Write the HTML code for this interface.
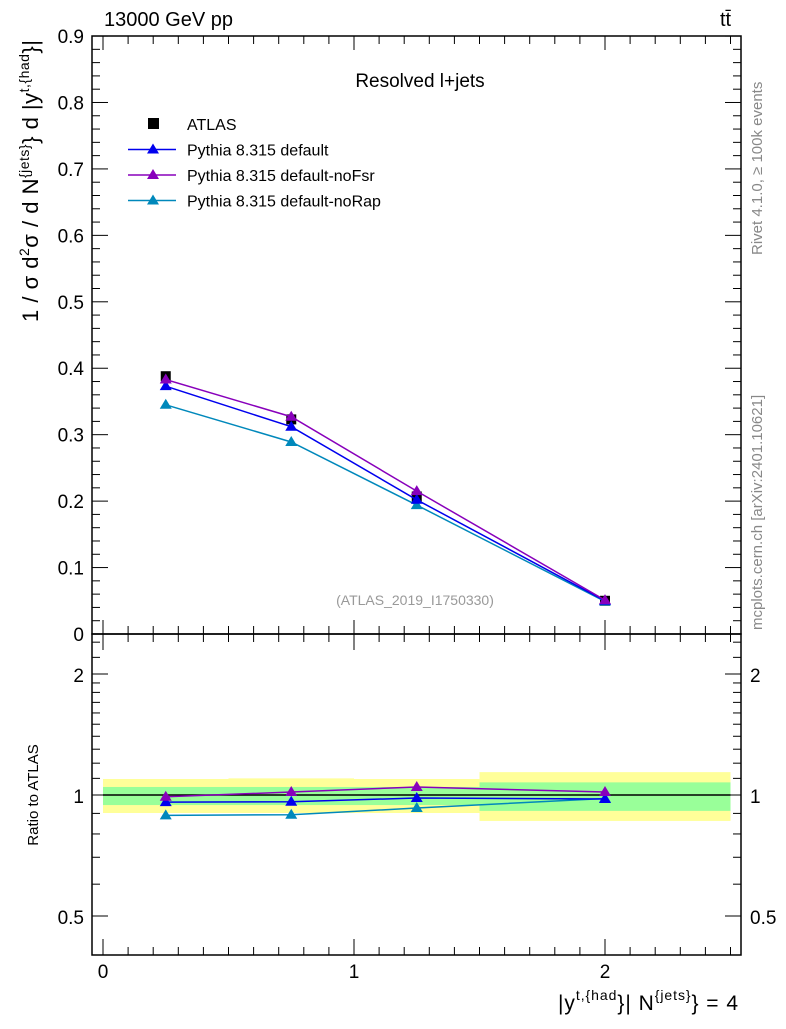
<!DOCTYPE html>
<html><head><meta charset="utf-8">
<style>
body{margin:0;background:#fff;}
svg text{font-family:"Liberation Sans",sans-serif;}
</style></head>
<body>
<svg id="chart" width="786" height="1024" xmlns="http://www.w3.org/2000/svg">
<g id="bands"></g>
<g id="main"></g>
<g id="ratio"></g>
<g id="axes"></g>
<text x="104" y="26" font-size="20">13000 GeV pp</text>
<text x="720" y="26" font-size="20">tt̄</text>
<text x="420" y="87" font-size="19" text-anchor="middle">Resolved l+jets</text>
<text x="415" y="605" font-size="14" fill="#999" text-anchor="middle">(ATLAS_2019_I1750330)</text>
<text transform="translate(762,255) rotate(-90)" font-size="15" fill="#888">Rivet 4.1.0, ≥ 100k events</text>
<text transform="translate(762,630) rotate(-90)" font-size="15" fill="#888">mcplots.cern.ch [arXiv:2401.10621]</text>
<text transform="translate(38,40) rotate(-90)" font-size="22" text-anchor="end" textLength="282" lengthAdjust="spacing">1 / σ d<tspan font-size="14" dy="-9">2</tspan><tspan dy="9">σ / d N</tspan><tspan font-size="14" dy="-9">{jets}</tspan><tspan dy="9">} d |y</tspan><tspan font-size="14" dy="-9">t,{had</tspan><tspan dy="9">}|</tspan></text>
<text transform="translate(38,795) rotate(-90)" font-size="15" text-anchor="middle">Ratio to ATLAS</text>
<text x="558" y="1010" font-size="21" textLength="180" lengthAdjust="spacing">|y<tspan font-size="14" dy="-10">t,{had</tspan><tspan dy="10">}| N</tspan><tspan font-size="14" dy="-10">{jets}</tspan><tspan dy="10">} = 4</tspan></text>
<g id="legend"></g>
</svg>
<script>
const xCenters=[0.25,0.75,1.25,2.0];
const binEdges=[0,0.5,1,1.5,2.5];
const atlas=[0.388,0.323,0.207,0.050];
const pyDefault=[0.373,0.312,0.202,0.050];
const pyNoFsr=[0.383,0.327,0.215,0.051];
const pyNoRap=[0.345,0.289,0.194,0.049];
const rDefault=[0.96,0.962,0.983,0.977];
const rNoFsr=[0.99,1.017,1.047,1.017];
const rNoRap=[0.89,0.893,0.928,0.98];
const yellowHi=[1.096,1.10,1.096,1.14];
const yellowLo=[0.902,0.902,0.902,0.862];
const greenHi=[1.047,1.047,1.047,1.075];
const greenLo=[0.944,0.944,0.944,0.913];
const yTicks=[0,0.1,0.2,0.3,0.4,0.5,0.6,0.7,0.8,0.9];
const xTicks=[0,1,2];
const rTicks=[0.5,1,2];

const NS="http://www.w3.org/2000/svg";
const X=v=>103+251*v;
const Y=v=>634-664.4*v;
const R=v=>795-121*Math.log2(v);
function mk(tag,attrs,parent){const e=document.createElementNS(NS,tag);for(const k in attrs)e.setAttribute(k,attrs[k]);parent.appendChild(e);return e;}
const bands=document.getElementById('bands'),main=document.getElementById('main'),ratio=document.getElementById('ratio'),axes=document.getElementById('axes'),legend=document.getElementById('legend');

for(let i=0;i<xCenters.length;i++){
 const x0=X(binEdges[i]),x1=X(binEdges[i+1]);
 let y=mk('rect',{x:x0,y:R(yellowHi[i]),width:x1-x0,height:R(yellowLo[i])-R(yellowHi[i]),fill:'#ffff99'},bands);
 
 
 let g=mk('rect',{x:x0,y:R(greenHi[i]),width:x1-x0,height:R(greenLo[i])-R(greenHi[i]),fill:'#99ff99'},bands);
 
 
}
const ref=mk('line',{x1:X(0),x2:X(2.5),y1:R(1),y2:R(1),stroke:'#000','stroke-width':1.5},ratio);



function tri(cx,cy,col,parent,name){
 const p=mk('path',{d:`M${cx},${cy-6}L${cx+6},${cy+4}L${cx-6},${cy+4}Z`,fill:col},parent);
 
 
}
function series(vals,fy,col,parent,name){
 const pts=vals.map((v,i)=>X(xCenters[i])+','+fy(v)).join(' ');
 const l=mk('polyline',{points:pts,fill:'none',stroke:col,'stroke-width':1.5},parent);
 
 
 vals.forEach((v,i)=>tri(X(xCenters[i]),fy(v),col,parent,name+'-point-'+i));
}
atlas.forEach((v,i)=>{
 const r=mk('rect',{x:X(xCenters[i])-5,y:Y(v)-5,width:10,height:10,fill:'#000'},main);
 
 
});
series(pyNoRap,Y,'#0088bb',main,'noRap');
series(pyDefault,Y,'#0000ee',main,'default');
series(pyNoFsr,Y,'#8800bb',main,'noFsr');
series(rNoRap,R,'#0088bb',ratio,'ratio-noRap');
series(rDefault,R,'#0000ee',ratio,'ratio-default');
series(rNoFsr,R,'#8800bb',ratio,'ratio-noFsr');

mk('rect',{x:92,y:36,width:649,height:598,fill:'none',stroke:'#000','stroke-width':1.5},axes);
mk('rect',{x:92,y:634,width:649,height:321,fill:'none',stroke:'#000','stroke-width':1.5},axes);
yTicks.forEach(v=>{
 const y=Y(v);
 mk('line',{x1:92,x2:108,y1:y,y2:y,stroke:'#000'},axes);mk('line',{x1:725,x2:741,y1:y,y2:y,stroke:'#000'},axes);
 const t=mk('text',{x:84,y:y+7,'font-size':19,'text-anchor':'end'},axes);t.textContent=(v===0?'0':v.toFixed(1));
 
 
 if(v<0.9)for(let k=1;k<5;k++){const ym=Y(v+k*0.02);mk('line',{x1:92,x2:100,y1:ym,y2:ym,stroke:'#000'},axes);mk('line',{x1:733,x2:741,y1:ym,y2:ym,stroke:'#000'},axes);}
});
rTicks.forEach(v=>{
 const y=R(v);
 mk('line',{x1:92,x2:108,y1:y,y2:y,stroke:'#000'},axes);mk('line',{x1:725,x2:741,y1:y,y2:y,stroke:'#000'},axes);
 const t=mk('text',{x:84,y:y+8,'font-size':19,'text-anchor':'end'},axes);t.textContent=String(v);
 
 
 const t2=mk('text',{x:750,y:y+8,'font-size':19},axes);t2.textContent=String(v);
 
 
});
[0.6,0.7,0.8,0.9,1.1,1.2,1.3,1.4,1.5,1.6,1.7,1.8,1.9,2.2,2.4].forEach(v=>{const y=R(v);mk('line',{x1:92,x2:100,y1:y,y2:y,stroke:'#000'},axes);mk('line',{x1:733,x2:741,y1:y,y2:y,stroke:'#000'},axes);});
xTicks.forEach(v=>{
 const x=X(v);
 [[634,620],[36,50],[955,939],[634,650]].forEach(a=>mk('line',{x1:x,x2:x,y1:a[0],y2:a[1],stroke:'#000'},axes));
 const t=mk('text',{x:x,y:978,'font-size':19,'text-anchor':'middle'},axes);t.textContent=String(v);
 
 
});
for(let v=0.1;v<2.55;v+=0.1){if(Math.abs(v-Math.round(v))<0.01)continue;const x=X(v);[[634,626],[36,44],[955,947],[634,642]].forEach(a=>mk('line',{x1:x,x2:x,y1:a[0],y2:a[1],stroke:'#000'},axes));}

const legNames=['ATLAS','Pythia 8.315 default','Pythia 8.315 default-noFsr','Pythia 8.315 default-noRap'];
const legCols=['#000','#0000ee','#8800bb','#0088bb'];
legNames.forEach((n,i)=>{
 const y=124+25.5*i;
 if(i===0){const r=mk('rect',{x:148,y:y-6,width:11,height:11,fill:'#000'},legend);}
 else{mk('line',{x1:128,x2:176,y1:y,y2:y,stroke:legCols[i],'stroke-width':1.5},legend);tri(153,y,legCols[i],legend,'legend-marker-'+i);}
 const t=mk('text',{x:187,y:y+6,'font-size':16},legend);t.textContent=n;
 
 
});
</script>
</body></html>
